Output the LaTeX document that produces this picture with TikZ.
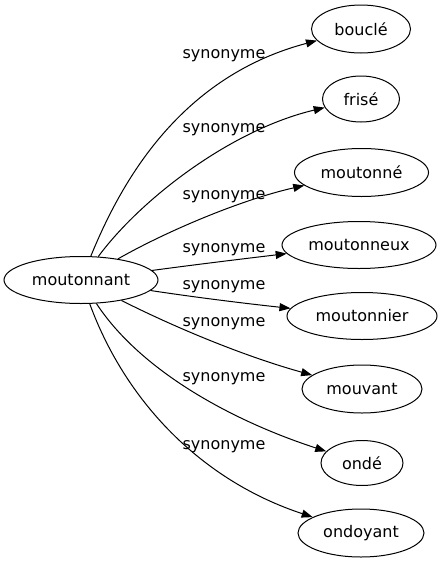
\documentclass[tikz,border=0pt]{standalone}
\usepackage{fontspec}
\setmainfont{DejaVu Sans}
\usetikzlibrary{shapes.geometric,arrows.meta}
\tikzset{
  word/.style={ellipse, draw, line width=1pt, inner sep=0pt, font=\fontsize{16}{19}\selectfont},
  link/.style={line width=1pt, -{Triangle[length=11pt,width=8pt]}},
  rel/.style={font=\fontsize{16}{19}\selectfont, anchor=base, inner sep=0pt}
}
\begin{document}
\begin{tikzpicture}[x=1pt,y=-1pt]
\useasboundingbox (0,0) rectangle (446,563);
\node[word, minimum width=154pt, minimum height=47pt] (m) at (81,280) {moutonnant};
\node[word, minimum width=99pt, minimum height=48pt] (a) at (361,29) {bouclé};
\node[word, minimum width=77pt, minimum height=46pt] (b) at (361,99) {frisé};
\node[word, minimum width=134pt, minimum height=48pt] (c) at (361.5,172.5) {moutonné};
\node[word, minimum width=154pt, minimum height=47pt] (d) at (359,245) {moutonneux};
\node[word, minimum width=150pt, minimum height=47pt] (e) at (362,316) {moutonnier};
\node[word, minimum width=120pt, minimum height=48pt] (f) at (362,389) {mouvant};
\node[word, minimum width=82pt, minimum height=45pt] (g) at (362,463) {ondé};
\node[word, minimum width=126pt, minimum height=48pt] (h) at (361,533) {ondoyant};

\draw[link] (m) .. controls (118,190) and (175,78) .. (a);
\draw[link] (m) .. controls (140,200) and (230,130) .. (b);
\draw[link] (m) .. controls (165,232) and (240,200) .. (c);
\draw[link] (m) .. controls (200,264) and (250,258) .. (d);
\draw[link] (m) .. controls (200,298) and (250,304) .. (e);
\draw[link] (m) .. controls (170,325) and (240,355) .. (f);
\draw[link] (m) .. controls (140,370) and (230,420) .. (g);
\draw[link] (m) .. controls (125,400) and (200,480) .. (h);

\node[rel] (l1) at (224,58) {synonyme};
\node[rel] (l2) at (224,132) {synonyme};
\node[rel] (l3) at (224,199) {synonyme};
\node[rel] (l4) at (224,252) {synonyme};
\node[rel] (l5) at (224,289) {synonyme};
\node[rel] (l6) at (224,326) {synonyme};
\node[rel] (l7) at (224,381) {synonyme};
\node[rel] (l8) at (224,449) {synonyme};
\end{tikzpicture}
\end{document}
